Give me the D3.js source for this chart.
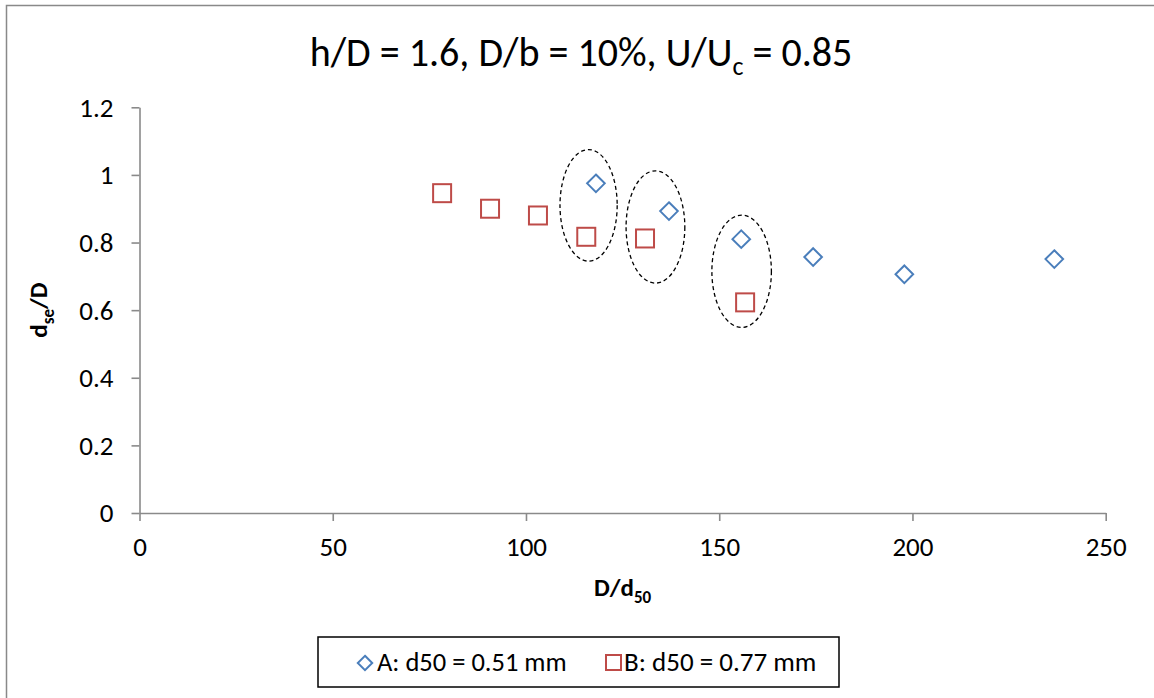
<!DOCTYPE html>
<html>
<head>
<meta charset="utf-8">
<script src="https://cdn.jsdelivr.net/npm/d3@7"></script>
<style>
  html, body { margin: 0; padding: 0; background: #fff; }
  svg { display: block; }
  text { font-family: Carlito, Lato, "Open Sans", sans-serif; fill: #000; }
</style>
</head>
<body>
<svg id="chart" width="1154" height="698"></svg>
<script>
// ---- data ----
const seriesNames = ["A: d50 = 0.51 mm", "B: d50 = 0.77 mm"];
const seriesA_x = [118.1, 137.0, 155.7, 174.3, 197.9, 236.7];
const seriesA_y = [0.975, 0.893, 0.810, 0.757, 0.706, 0.751];
const seriesB_x = [78.3, 90.7, 103.1, 115.6, 130.8, 156.7];
const seriesB_y = [0.946, 0.900, 0.880, 0.817, 0.812, 0.623];
// annotation ellipses (data units): centre x, centre y, radius x, radius y
const ellipseCx = [116.2, 133.5, 155.8];
const ellipseCy = [0.910, 0.846, 0.715];
const ellipseRx = [7.4, 7.6, 7.7];
const ellipseRy = [0.165, 0.166, 0.166];
const xTicks = [0, 50, 100, 150, 200, 250];
const yTicks = [0, 0.2, 0.4, 0.6, 0.8, 1, 1.2];

const svg = d3.select("#chart");
const W = 1154, H = 698;
const m = { left: 139.5, right: 1105.7, top: 107.3, bottom: 513 };
const FONT = "Carlito, Lato, 'Open Sans', sans-serif";

// outer frame
svg.append("rect").attr("x", 6.5).attr("y", 5.5).attr("width", W + 10).attr("height", H + 10)
  .attr("fill", "#fff").attr("stroke", "#898989").attr("stroke-width", 1.5);

const x = d3.scaleLinear().domain([0, 250]).range([m.left, m.right]);
const y = d3.scaleLinear().domain([0, 1.2]).range([m.bottom, m.top]);

const axisColor = "#8a8a8a";
const xAxis = svg.append("g").attr("transform", `translate(0,${m.bottom})`)
  .call(d3.axisBottom(x).tickValues(xTicks).tickSize(8).tickSizeOuter(0).tickPadding(18).tickFormat(d3.format("d")));
const yAxis = svg.append("g").attr("transform", `translate(${m.left},0)`)
  .call(d3.axisLeft(y).tickValues(yTicks).tickSize(8).tickSizeOuter(0).tickPadding(18).tickFormat(d => String(+d.toFixed(1))));
[xAxis, yAxis].forEach(g => {
  g.attr("font-size", 27).attr("font-family", FONT);
  g.select(".domain").attr("stroke", axisColor).attr("stroke-width", 1.6);
  g.selectAll(".tick line").attr("stroke", axisColor).attr("stroke-width", 1.6);
  g.selectAll(".tick text").attr("fill", "#000");
});
xAxis.selectAll(".tick text").attr("dy", "0.62em");
yAxis.selectAll(".tick text").attr("dy", "0.33em");

// ellipses
const ell = ellipseCx.map((cx, i) => ({ cx, cy: ellipseCy[i], rx: ellipseRx[i], ry: ellipseRy[i] }));
svg.append("g").selectAll("ellipse").data(ell).join("ellipse")
  .attr("cx", d => x(d.cx)).attr("cy", d => y(d.cy))
  .attr("rx", d => x(d.cx + d.rx) - x(d.cx)).attr("ry", d => y(d.cy) - y(d.cy + d.ry))
  .attr("fill", "none").attr("stroke", "#000").attr("stroke-width", 1.3).attr("stroke-dasharray", "4 3");

const blue = "#4a7ebb", red = "#be4b48";
const dataA = seriesA_x.map((v, i) => ({ x: v, y: seriesA_y[i] }));
const dataB = seriesB_x.map((v, i) => ({ x: v, y: seriesB_y[i] }));
const diamondPath = s => `M0,${-s}L${s},0L0,${s}L${-s},0Z`;

svg.append("g").selectAll("path").data(dataA).join("path")
  .attr("transform", d => `translate(${x(d.x)},${y(d.y)})`)
  .attr("d", diamondPath(8.8)).attr("fill", "none").attr("stroke", blue).attr("stroke-width", 2);
svg.append("g").selectAll("rect").data(dataB).join("rect")
  .attr("x", d => x(d.x) - 9).attr("y", d => y(d.y) - 9).attr("width", 18).attr("height", 18)
  .attr("fill", "none").attr("stroke", red).attr("stroke-width", 2);

// title
const title = svg.append("text").attr("x", 581).attr("y", 66).attr("text-anchor", "middle").attr("font-size", 40);
title.append("tspan").text("h/D = 1.6, D/b = 10%, U/U");
title.append("tspan").attr("font-size", 26).attr("dy", 9).text("c");
title.append("tspan").attr("dy", -9).text(" = 0.85");

// x axis title
const xt = svg.append("text").attr("x", (m.left + m.right) / 2).attr("y", 596).attr("text-anchor", "middle")
  .attr("font-size", 25).attr("font-weight", "bold");
xt.append("tspan").text("D/d");
xt.append("tspan").attr("font-size", 17).attr("dy", 7).text("50");

// y axis title
const yt = svg.append("text").attr("transform", `translate(47,${(m.top + m.bottom) / 2}) rotate(-90)`)
  .attr("text-anchor", "middle").attr("font-size", 25).attr("font-weight", "bold");
yt.append("tspan").text("d");
yt.append("tspan").attr("font-size", 17).attr("dy", 7).text("se");
yt.append("tspan").attr("dy", -7).text("/D");

// legend
const lg = svg.append("g");
lg.append("rect").attr("x", 318).attr("y", 637).attr("width", 521).attr("height", 50)
  .attr("fill", "#fff").attr("stroke", "#000").attr("stroke-width", 1.5);
lg.append("path").attr("transform", "translate(365,663)").attr("d", diamondPath(7.2))
  .attr("fill", "none").attr("stroke", blue).attr("stroke-width", 2);
lg.append("text").attr("x", 377).attr("y", 671).attr("font-size", 26.5).text(seriesNames[0]);
lg.append("rect").attr("x", 606).attr("y", 655).attr("width", 15).attr("height", 15)
  .attr("fill", "none").attr("stroke", red).attr("stroke-width", 2);
lg.append("text").attr("x", 624).attr("y", 671).attr("font-size", 27).text(seriesNames[1]);
</script>
</body>
</html>
